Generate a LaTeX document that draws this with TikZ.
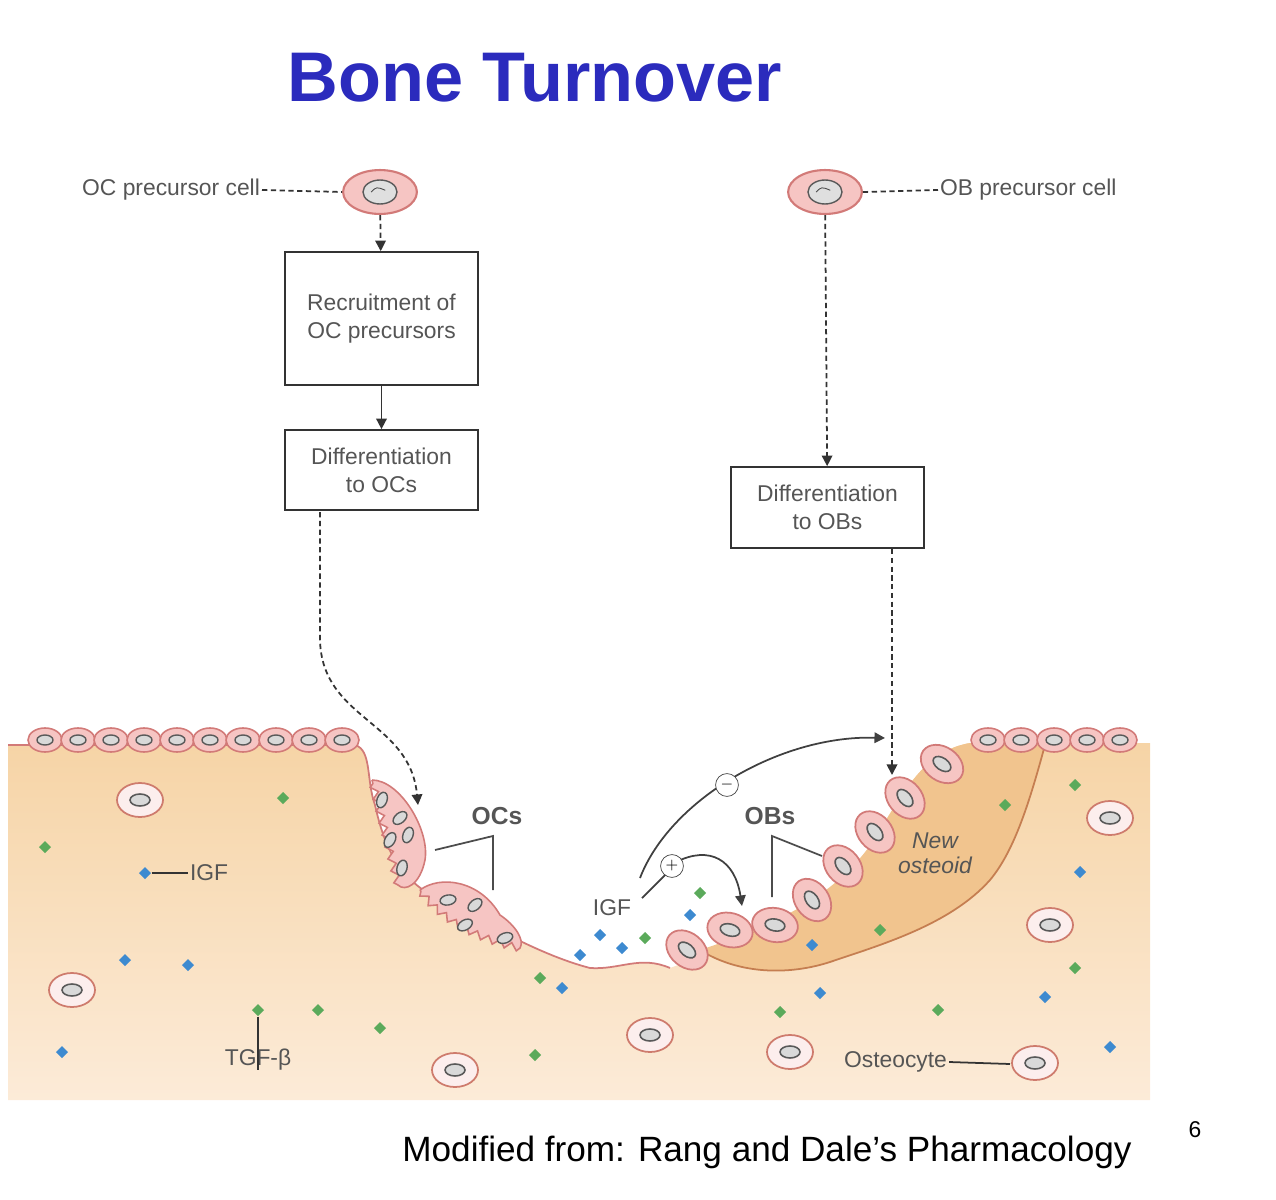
\documentclass[tikz,border=0pt]{standalone}
\usepackage{fontspec}
\setmainfont{Liberation Sans}
\usetikzlibrary{arrows.meta,decorations.pathmorphing,shapes.geometric}
\definecolor{bone}{HTML}{F6D4A6}
\definecolor{bonelight}{HTML}{FCEBD8}
\definecolor{osteoid}{HTML}{F1C48E}
\definecolor{cellfill}{HTML}{F6C5C3}
\definecolor{celledge}{HTML}{D27A78}
\definecolor{txt}{HTML}{555555}
\definecolor{gdot}{HTML}{5BAA5B}
\definecolor{bdot}{HTML}{3D8AD0}
\definecolor{titleblue}{HTML}{2B2BBD}
\tikzset{
 boxn/.style={draw=black!80,line width=1pt,align=center,font=\fontsize{13}{16}\selectfont,text=txt,inner sep=0pt},
 lbl/.style={font=\fontsize{13}{15}\selectfont,text=txt,inner sep=1pt},
 gd/.style={diamond,fill=gdot,inner sep=0pt,minimum size=7pt},
 bd/.style={diamond,fill=bdot,inner sep=0pt,minimum size=7pt},
 dots/.style={densely dashed,line width=1pt,black!80},
 arr/.style={-{Triangle[length=6pt,width=6pt]}},
}
\newcommand{\lcell}[3]{% x y rotate
 \fill[cellfill,draw=celledge,line width=0.9pt,rotate around={#3:(#1,#2)}] (#1,#2) ellipse (17 and 12);
 \fill[gray!30,draw=gray!70!black,line width=0.8pt,rotate around={#3:(#1,#2)}] (#1,#2) ellipse (8 and 5);}
\newcommand{\bcell}[3]{% x y rotate
 \fill[cellfill,draw=celledge,line width=1pt,rotate around={#3:(#1,#2)}] (#1,#2) ellipse (23 and 17);
 \fill[gray!30,draw=gray!70!black,line width=0.9pt,rotate around={#3:(#1,#2)}] (#1,#2) ellipse (10 and 6);}
\newcommand{\ocyte}[2]{%
 \fill[white!70!cellfill,draw=celledge!80!brown,line width=1pt] (#1,#2) ellipse (23 and 17);
 \fill[gray!30,draw=gray!70!black,line width=0.9pt] (#1,#2) ellipse (10 and 6);}
\begin{document}
\begin{tikzpicture}[x=0.02cm,y=-0.02cm]
\useasboundingbox (0,0) rectangle (1276,1200);
% title
\node (title) at (535,78) {\fontsize{40}{44}\selectfont\bfseries\color{titleblue}Bone Turnover};
% bone
\shade[top color=bone,bottom color=bonelight]
 (8,745) -- (355,745) .. controls (372,750) and (366,780) .. (375,805)
 .. controls (385,850) and (400,880) .. (440,900)
 .. controls (490,925) and (540,955) .. (590,968)
 .. controls (620,970) and (640,955) .. (670,968)
 .. controls (760,935) and (840,900) .. (880,830)
 .. controls (910,780) and (930,750) .. (970,743) -- (1150,743) -- (1150,1100) -- (8,1100) -- cycle;
\draw[celledge,line width=1pt] (8,745) -- (355,745) .. controls (372,750) and (366,780) .. (375,805)
 .. controls (385,850) and (400,880) .. (440,900)
 .. controls (490,925) and (540,955) .. (590,968)
 .. controls (620,970) and (640,955) .. (670,968);
% new osteoid
\fill[osteoid] (700,950) .. controls (760,930) and (840,900) .. (880,830)
 .. controls (910,780) and (930,750) .. (970,743) -- (1045,745)
 .. controls (1030,800) and (1015,850) .. (990,880)
 .. controls (950,925) and (880,945) .. (830,962)
 .. controls (790,975) and (740,975) .. (700,950) -- cycle;
\draw[brown!70!celledge,line width=1pt] (1045,745)
 .. controls (1030,800) and (1015,850) .. (990,880)
 .. controls (950,925) and (880,945) .. (830,962)
 .. controls (790,975) and (740,975) .. (700,950);
% lining cells
\foreach \x in {45,78,111,144,177,210,243,276,309,342} {\lcell{\x}{740}{0}}
\foreach \x in {988,1021,1054,1087,1120} {\lcell{\x}{740}{0}}
% osteoblasts
\bcell{687}{950}{-40}\bcell{730}{930}{-15}\bcell{775}{925}{-10}\bcell{812}{900}{-55}
\bcell{843}{866}{-50}\bcell{875}{832}{-50}\bcell{905}{798}{-50}\bcell{942}{764}{-35}
% osteoclasts
\draw[celledge,fill=cellfill,line width=0.9pt,decoration={zigzag,segment length=7pt,amplitude=2pt}]
 (372,780) .. controls (400,780) and (430,830) .. (425,860) .. controls (420,885) and (405,892) .. (398,885)
 decorate{ -- (372,780)};
\foreach \p/\r in {{(382,800)}/70,{(400,818)}/40,{(390,840)}/60,{(408,835)}/70,{(402,868)}/75}
 {\fill[gray!30,draw=gray!70!black,line width=0.8pt,rotate around={\r:\p}] \p ellipse (8 and 5);}
\draw[celledge,fill=cellfill,line width=0.9pt,decoration={zigzag,segment length=7pt,amplitude=2pt}]
 (420,890) .. controls (440,875) and (480,880) .. (500,915) .. controls (515,925) and (525,940) .. (520,948)
 decorate{ .. controls (480,940) and (440,920) .. (420,890)};
\foreach \p/\r in {{(448,900)}/10,{(475,905)}/40,{(465,925)}/30,{(505,938)}/20}
 {\fill[gray!30,draw=gray!70!black,line width=0.8pt,rotate around={\r:\p}] \p ellipse (8 and 5);}
% osteocytes
\ocyte{140}{800}\ocyte{72}{990}\ocyte{455}{1070}\ocyte{650}{1035}\ocyte{790}{1052}
\ocyte{1035}{1063}\ocyte{1050}{925}\ocyte{1110}{818}
% growth factor dots
\foreach \p in {(283,798),(45,847),(318,1010),(380,1028),(535,1055),(540,978),(645,938),(700,893),(880,930),(780,1012),(938,1010),(1075,968),(1075,785),(1005,805)} \node[gd] at \p {};
\foreach \p in {(125,960),(188,965),(62,1052),(580,955),(600,935),(622,948),(690,915),(562,988),(812,945),(820,993),(1045,997),(1080,872),(1110,1047)} \node[bd] at \p {};
\node[bd] (igfdot) at (145,873) {};
\node[lbl,anchor=west] (igf1) at (188,873) {IGF};
\draw[black!80,line width=1pt] (igfdot) -- (igf1.west);
\node[gd] (tgfdot) at (258,1010) {};
\node[lbl] (tgf) at (258,1060) {TGF-β};
\draw[black!80,line width=1pt] (tgfdot) -- (258,1070);
% labels
\node[lbl,font=\fontsize{14}{16}\selectfont\bfseries] (ocs) at (497,816) {OCs};
\draw[black!70,line width=1pt] (435,850) -- (493,836) -- (493,890);
\node[lbl,font=\fontsize{14}{16}\selectfont\bfseries] (obs) at (770,816) {OBs};
\draw[black!70,line width=1pt] (772,897) -- (772,836) -- (822,856);
\node[lbl,font=\fontsize{13}{14}\selectfont\itshape,align=center] (newost) at (935,853) {New\\osteoid};
\node[lbl,anchor=west] (ost) at (842,1062) {Osteocyte};
\draw[black!80,line width=1pt] (ost.east) -- (1010,1064);
\node[lbl] (igf2) at (612,908) {IGF};
% IGF arrows
\coordinate (up1) at (885,738);
\coordinate (dn1) at (742,906);
\draw[black!75,line width=1pt,arr] (640,878) .. controls (670,800) and (780,735) .. (up1);
\node[circle,draw=black!75,fill=white,inner sep=0pt,minimum size=13pt,font=\fontsize{9}{9}\selectfont] (minus) at (727,785) {$-$};
\draw[black!75,line width=1pt] (642,898) -- (668,872);
\draw[black!75,line width=1pt,arr] (676,862) .. controls (710,845) and (735,860) .. (dn1);
\node[circle,draw=black!75,fill=white,inner sep=0pt,minimum size=13pt,font=\fontsize{9}{9}\selectfont] (plus) at (672,866) {$+$};
% top flow
\node[lbl,anchor=east] (ocp) at (262,190) {OC precursor cell};
\node[lbl,anchor=west] (obp) at (938,190) {OB precursor cell};
\node[ellipse,draw=celledge,fill=cellfill,line width=1.2pt,minimum width=42pt,minimum height=25pt] (occ) at (380,192) {};
\node[ellipse,draw=celledge,fill=cellfill,line width=1.2pt,minimum width=42pt,minimum height=25pt] (obc) at (825,192) {};
\foreach \c in {occ,obc} {\fill[gray!25,draw=gray!70!black,line width=0.8pt] (\c.center) ellipse (17 and 12);
 \draw[gray!60!black,line width=0.5pt] ([xshift=-5pt]\c.center) .. controls ([xshift=-2pt,yshift=3pt]\c.center) .. ([xshift=3pt,yshift=1pt]\c.center);}
\draw[dots] (ocp.east) -- (occ.west);
\draw[dots] (obc.east) -- (obp.west);
\node[boxn,minimum width=3.86cm,minimum height=2.66cm] (rec) at (381.5,318.5) {Recruitment of\\OC precursors};
\node[boxn,minimum width=3.86cm,minimum height=1.6cm] (doc) at (381.5,470) {Differentiation\\to OCs};
\node[boxn,minimum width=3.86cm,minimum height=1.62cm] (dob) at (827.5,507.5) {Differentiation\\to OBs};
\draw[dots,arr] (occ) -- (rec);
\draw[black!80,line width=1pt,arr] (rec) -- (doc);
\coordinate (ocend) at (418,805);
\draw[dots,arr] (320,512) -- (320,640) .. controls (322,720) and (410,720) .. (ocend);
\draw[dots,arr] (obc) -- (dob);
\coordinate (obend) at (892,775);
\draw[dots,arr] (892,549) -- (obend);
% footer
\node[font=\fontsize{20}{22}\selectfont] (foot) at (767,1152) {Modified from: Rang and Dale’s Pharmacology};
\node[font=\rmfamily\fontsize{13}{15}\selectfont] (pg) at (1195,1130) {6};
\end{tikzpicture}
\end{document}
